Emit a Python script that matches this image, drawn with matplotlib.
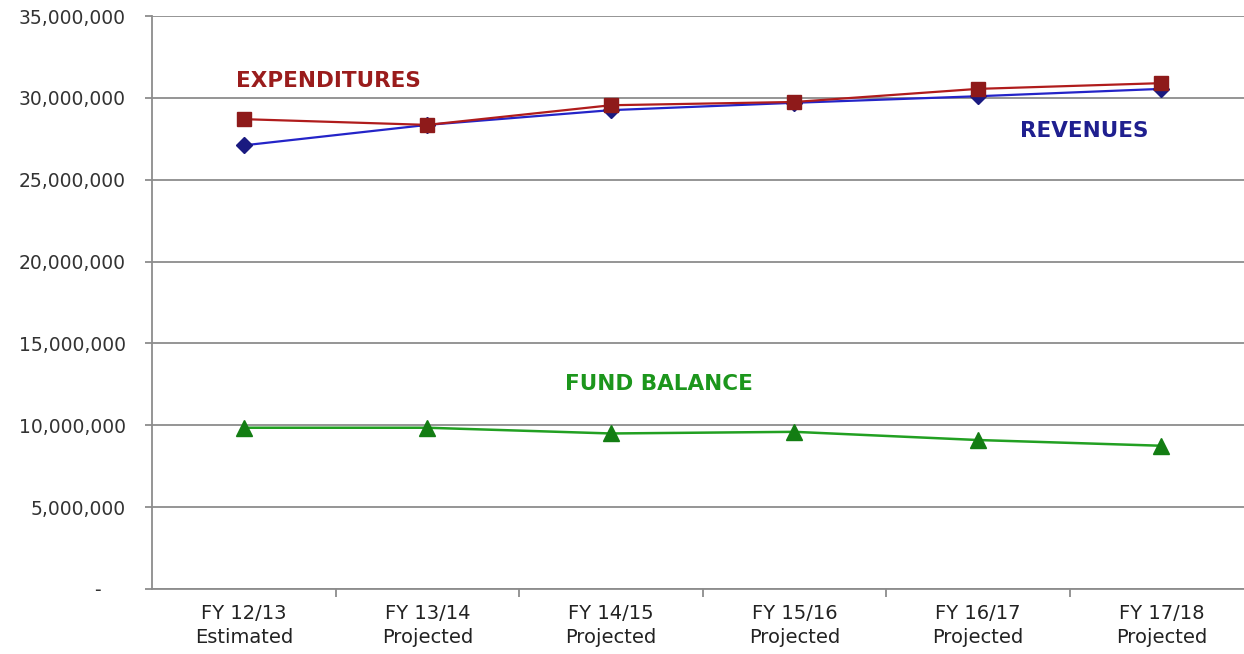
import matplotlib.pyplot as plt
from matplotlib.ticker import FuncFormatter

plt.rcParams['font.family'] = ['DejaVu Sans']

# fiscal years and series values
years = ['FY 12/13\nEstimated', 'FY 13/14\nProjected', 'FY 14/15\nProjected',
         'FY 15/16\nProjected', 'FY 16/17\nProjected', 'FY 17/18\nProjected']
expenditures = [28700000, 28350000, 29550000, 29750000, 30550000, 30900000]
revenues = [27100000, 28350000, 29250000, 29700000, 30100000, 30550000]
fund_balance = [9850000, 9850000, 9500000, 9600000, 9100000, 8750000]

fig = plt.figure(figsize=(12.44, 6.54), dpi=100)
ax = fig.add_axes([0.1222, 0.0994, 0.8778, 0.8761])

x = range(len(years))
ax.plot(x, expenditures, color='#b01c1c', lw=1.6, marker='s', ms=10,
        mfc='#8e1a1a', mec='#8e1a1a', zorder=4)
ax.plot(x, revenues, color='#2424c8', lw=1.6, marker='D', ms=8,
        mfc='#1a1a80', mec='#1a1a80', zorder=3)
ax.plot(x, fund_balance, color='#22a022', lw=1.8, marker='^', ms=11,
        mfc='#137d13', mec='#137d13', zorder=3)

# series labels placed on the plot
label_style = dict(fontsize=15.5, fontweight='bold', ha='center', va='center')
ax.text(0.46, 31.05e6, 'EXPENDITURES', color='#9a1c1c', **label_style)
ax.text(4.58, 28.0e6, 'REVENUES', color='#1f1f8f', **label_style)
ax.text(2.26, 12.55e6, 'FUND BALANCE', color='#1c961c', **label_style)

ax.set_ylim(0, 35e6)
ax.set_xlim(-0.5, 5.45)
ax.set_yticks(range(0, 35000001, 5000000))
ax.yaxis.set_major_formatter(FuncFormatter(lambda v, p: '-    ' if v == 0 else f'{v:,.0f}'))
ax.grid(axis='y', color='#8c8c8c', lw=1.3)
ax.set_axisbelow(True)

# category labels centred between boundary ticks
ax.set_xticks([i + 0.5 for i in range(len(years) - 1)])
ax.set_xticklabels([])
ax.set_xticks(list(x), minor=True)
ax.set_xticklabels(years, minor=True, fontsize=14, color='#222222', linespacing=1.3)
ax.tick_params(axis='x', which='minor', length=0, pad=11)
ax.tick_params(axis='x', which='major', length=6, color='#8c8c8c', width=1.3)
ax.tick_params(axis='y', length=5, color='#8c8c8c', width=1.3,
               labelsize=13.5, labelcolor='#333333', pad=14)

for side in ['top', 'right']:
    ax.spines[side].set_visible(False)
for side in ['left', 'bottom']:
    ax.spines[side].set_color('#8c8c8c')
    ax.spines[side].set_linewidth(1.3)

fig.savefig('out.png', dpi=100)
